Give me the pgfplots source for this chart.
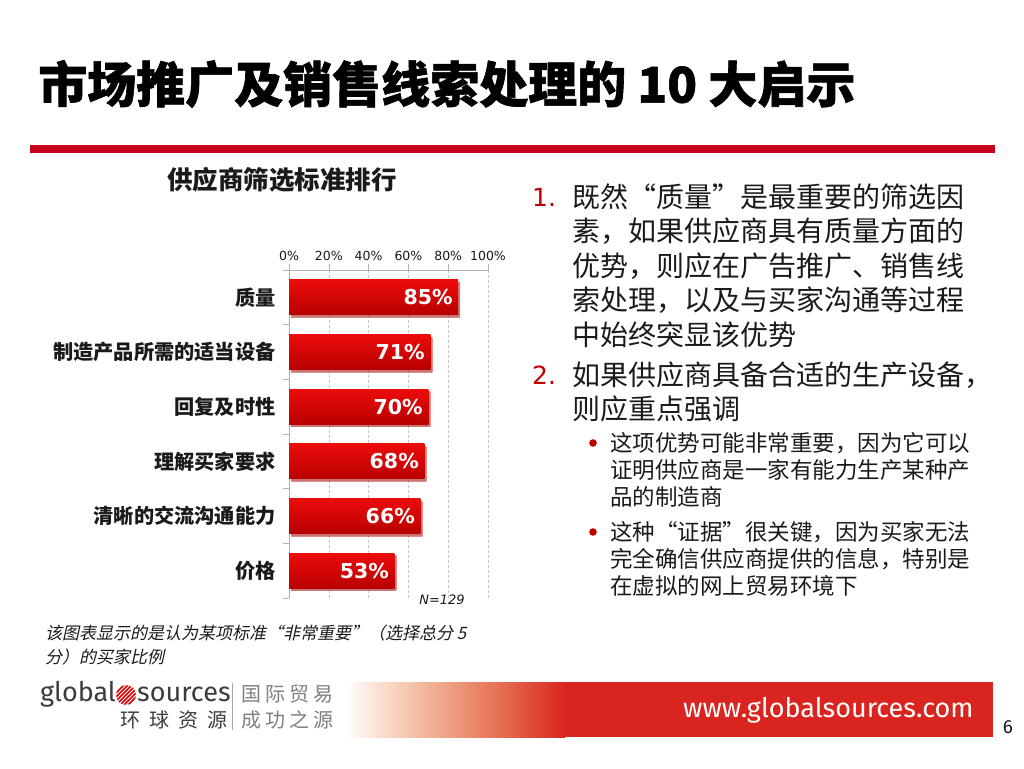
\documentclass[border=0pt]{standalone}
\usepackage{pgfplots}
\pgfplotsset{compat=1.18}
\usepackage{fontspec}
\setmainfont{DejaVu Sans}
\newfontfamily\cjk{Noto Sans CJK SC}
\newfontfamily\cjkheavy{Noto Sans CJK SC}[BoldFeatures={FakeBold=1.2}]
\newfontfamily\cjkit{Noto Sans CJK SC}[FakeSlant=0.22]
\newfontfamily\fira{Fira Sans}

\definecolor{barTop}{HTML}{EC0C0C}
\definecolor{barBot}{HTML}{B80000}
\definecolor{numRed}{HTML}{C00000}
\definecolor{lineRed}{HTML}{C4001A}
\definecolor{footRed}{HTML}{DA2420}
\definecolor{txt}{HTML}{1A1A1A}
\definecolor{logoGray}{HTML}{3C3C3C}

\newcommand{\fs}[1]{\fontsize{#1}{#1}\selectfont}

\begin{document}
\begin{tikzpicture}[x=1pt,y=1pt]
\fill[white] (0,0) rectangle (1024,768);
\path[use as bounding box] (0,0) rectangle (1024,768);

% title and rule
\node[anchor=west, inner sep=0, text=black] at (38,684) {\cjkheavy\bfseries\fs{49}市场推广及销售线索处理的 10 大启示};
\fill[lineRed] (30,615) rectangle (995,623);

% chart
\node[text=txt] at (282,588) {\cjk\bfseries\fs{25.5}供应商筛选标准排行};

\begin{axis}[
  at={(289pt,170pt)}, anchor=south west,
  width=199pt, height=328pt, scale only axis,
  xbar, bar width=35pt,
  xmin=0, xmax=100,
  ymin=-0.5, ymax=5.5, y dir=reverse,
  axis x line*=top, axis y line*=left,
  axis line style={gray!60, -},
  xtick={0,20,...,100},
  xticklabels={0\%,20\%,40\%,60\%,80\%,100\%},
  xticklabel style={font=\fs{12.5}, text=txt},
  xmajorgrids, grid style={densely dashed, gray!45},
  ytick={-0.5,0.5,...,5.5},
  y tick label as interval,
  yticklabels={质量,制造产品所需的适当设备,回复及时性,理解买家要求,清晰的交流沟通能力,价格},
  yticklabel style={font=\cjk\bfseries\fs{20.2}, text=txt, xshift=-4pt},
  tick align=outside, major tick length=6pt,
  tick style={gray!60, thin},
  /pgf/number format/assume math mode=true,
  point meta=x,
  nodes near coords={\pgfmathprintnumber{\pgfplotspointmeta}\%},
  nodes near coords style={anchor=east, text=white, font=\bfseries\fs{20.5}, xshift=-2pt},
  bar/.style={draw=none, bar shift=0pt, top color=barTop, bottom color=barBot,
    preaction={fill=black!35, opacity=0.45, transform canvas={xshift=2pt, yshift=-2.5pt}}},
]
\addplot[bar] coordinates {(85,0)};
\addplot[bar] coordinates {(71,1)};
\addplot[bar] coordinates {(70,2)};
\addplot[bar] coordinates {(68,3)};
\addplot[bar] coordinates {(66,4)};
\addplot[bar] coordinates {(53,5)};
\end{axis}

\node[text=txt] at (442,168) {\itshape\fs{13}N=129};
\node[anchor=west, inner sep=0, text=txt] at (45,135) {\cjkit\fs{17}该图表显示的是认为某项标准“非常重要”（选择总分 5};
\node[anchor=west, inner sep=0, text=txt] at (45,111) {\cjkit\fs{17}分）的买家比例};

% right hand text
\node[anchor=west, inner sep=0, text=numRed] at (532,571) {\fs{25}1.};
\node[anchor=west, inner sep=0, text=txt] at (572,571) {\cjk\fs{28}既然“质量”是最重要的筛选因};
\node[anchor=west, inner sep=0, text=txt] at (572,536.5) {\cjk\fs{28}素，如果供应商具有质量方面的};
\node[anchor=west, inner sep=0, text=txt] at (572,502) {\cjk\fs{28}优势，则应在广告推广、销售线};
\node[anchor=west, inner sep=0, text=txt] at (572,467.5) {\cjk\fs{28}索处理，以及与买家沟通等过程};
\node[anchor=west, inner sep=0, text=txt] at (572,433) {\cjk\fs{28}中始终突显该优势};
\node[anchor=west, inner sep=0, text=numRed] at (532,393) {\fs{25}2.};
\node[anchor=west, inner sep=0, text=txt] at (572,393) {\cjk\fs{28}如果供应商具备合适的生产设备，};
\node[anchor=west, inner sep=0, text=txt] at (572,359) {\cjk\fs{28}则应重点强调};
\fill[numRed] (593,325) circle (3.8);
\node[anchor=west, inner sep=0, text=txt] at (610,325) {\cjk\fs{22.5}这项优势可能非常重要，因为它可以};
\node[anchor=west, inner sep=0, text=txt] at (610,298) {\cjk\fs{22.5}证明供应商是一家有能力生产某种产};
\node[anchor=west, inner sep=0, text=txt] at (610,271) {\cjk\fs{22.5}品的制造商};
\fill[numRed] (593,236) circle (3.8);
\node[anchor=west, inner sep=0, text=txt] at (610,236) {\cjk\fs{22.5}这种“证据”很关键，因为买家无法};
\node[anchor=west, inner sep=0, text=txt] at (610,209) {\cjk\fs{22.5}完全确信供应商提供的信息，特别是};
\node[anchor=west, inner sep=0, text=txt] at (610,182) {\cjk\fs{22.5}在虚拟的网上贸易环境下};

% footer band
\shade[left color=white, right color={rgb,255:red,245;green,196;blue,170}] (345,31) rectangle (410,86);
\shade[left color={rgb,255:red,245;green,196;blue,170}, right color={rgb,255:red,228;green,112;blue,80}] (410,31) rectangle (500,86);
\shade[left color={rgb,255:red,228;green,112;blue,80}, right color=footRed] (500,31) rectangle (565,86);
\fill[footRed] (565,31) rectangle (993,86);
\node[anchor=west, inner sep=0, text=white] at (683,58) {\fira\fs{27}www.globalsources.com};
\node[text=txt] at (1008,41) {\fira\fs{19}6};

% logo
\node[anchor=west, inner sep=0, text=logoGray] at (40,74) {\fira\fs{27}global};
\begin{scope}
  \clip (126,73) circle (10);
  \foreach \k in {-20,-16,...,20} {
    \draw[red!85!black, line width=1.6pt] (116+\k,63) -- (136+\k,83);
  }
\end{scope}
\node[anchor=west, inner sep=0, text=logoGray] at (137,74) {\fira\fs{27}sources};
\draw[gray!70, line width=0.8pt] (232,38) -- (232,85);
\node[anchor=east, inner sep=0, text=logoGray] at (228,48) {\cjk\fs{20}环\hspace{9pt}球\hspace{9pt}资\hspace{9pt}源};
\node[anchor=west, inner sep=0, text=gray] at (241,74) {\cjk\fs{20}国\hspace{4pt}际\hspace{4pt}贸\hspace{4pt}易};
\node[anchor=west, inner sep=0, text=gray] at (241,48) {\cjk\fs{20}成\hspace{4pt}功\hspace{4pt}之\hspace{4pt}源};
\end{tikzpicture}
\end{document}
